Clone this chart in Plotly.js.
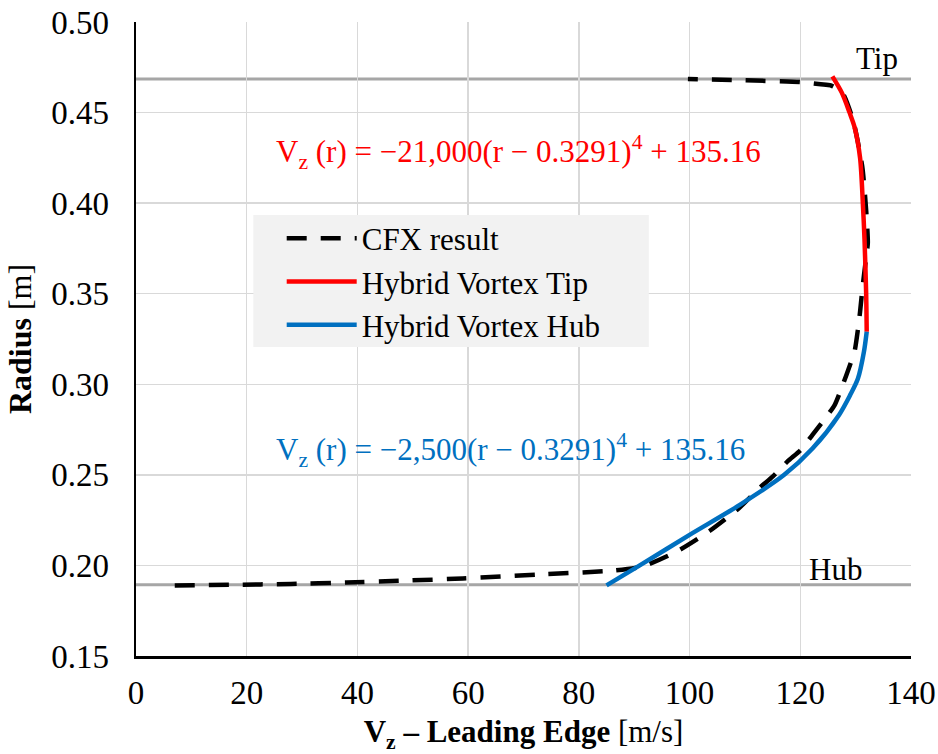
<!DOCTYPE html>
<html>
<head>
<meta charset="utf-8">
<script src="https://cdn.plot.ly/plotly-3.0.1.min.js"></script>
<style>html,body{margin:0;padding:0;background:#fff;}#chart{width:938px;height:754px;}</style>
</head>
<body>
<div id="chart"></div>
<script>
// CFX result (dashed black)
const cfxVz = [7.0, 17.0, 28.0, 38.0, 48.5, 59.0, 72.8, 86.5, 91.5, 97.7, 103.6, 109.0, 112.6, 115.0, 117.7, 120.1, 122.2, 124.3, 126.2, 127.6, 128.9, 129.8, 130.4, 130.8, 131.3, 131.9, 132.2, 131.9, 131.2, 129.6, 127.6, 125.5, 123.7, 120.0, 110.0, 99.7];
const cfxR  = [0.1889, 0.1893, 0.1898, 0.1906, 0.1916, 0.1928, 0.1950, 0.1972, 0.1994, 0.2077, 0.2190, 0.2318, 0.2427, 0.2490, 0.2574, 0.2638, 0.2721, 0.2804, 0.2885, 0.2991, 0.3100, 0.3180, 0.3300, 0.3400, 0.3550, 0.3700, 0.3780, 0.3960, 0.4200, 0.4450, 0.4610, 0.4650, 0.4656, 0.4668, 0.4678, 0.4685];
// Hybrid Vortex Tip (red)
const tipVz = [132.0, 131.9, 131.6, 131.3, 130.8, 129.8, 128.9, 127.5, 125.8];
const tipR  = [0.329, 0.350, 0.380, 0.400, 0.425, 0.442, 0.450, 0.461, 0.470];
// Hybrid Vortex Hub (blue)
const hubVz = [85.0, 91.0, 100.0, 109.0, 117.1, 122.2, 127.0, 129.0, 130.4, 131.5, 132.0];
const hubR  = [0.189, 0.200, 0.2169, 0.2333, 0.250, 0.2645, 0.2831, 0.2940, 0.3030, 0.318, 0.329];
// reference radii
const tipRadius = 0.4685;
const hubRadius = 0.1893;
const xTicks = [0, 20, 40, 60, 80, 100, 120, 140];
const yTicks = [0.15, 0.20, 0.25, 0.30, 0.35, 0.40, 0.45, 0.50];

const FONT = '"Liberation Serif", "Times New Roman", Times, serif';
const TXT = 31;
const TICK = 33;

const traces = [
  {x: cfxVz, y: cfxR, mode: 'lines', name: 'CFX result',
   line: {color: '#000000', width: 4.5, dash: '20px,14px', shape: 'spline', smoothing: 0.6}},
  {x: tipVz, y: tipR, mode: 'lines', name: 'Hybrid Vortex Tip',
   line: {color: '#ff0000', width: 4.5, shape: 'spline', smoothing: 0.8}},
  {x: hubVz, y: hubR, mode: 'lines', name: 'Hybrid Vortex Hub',
   line: {color: '#0070c0', width: 4.5, shape: 'spline', smoothing: 0.8}}
];

const layout = {
  width: 938, height: 754,
  margin: {l: 135.5, r: 26.5, t: 22, b: 98},
  paper_bgcolor: '#ffffff', plot_bgcolor: '#ffffff',
  font: {family: FONT, size: TXT, color: '#000'},
  showlegend: true,
  legend: {
    x: 0.188, y: 0.701, xanchor: 'left', yanchor: 'top',
    bgcolor: 'rgba(0,0,0,0)', borderwidth: 0,
    font: {family: FONT, size: TXT, color: '#000'},
    itemwidth: 70, tracegroupgap: 0
  },
  xaxis: {
    range: [0, 140], tickvals: xTicks, ticktext: xTicks.map(String),
    showgrid: true, gridcolor: '#d9d9d9', gridwidth: 1.5,
    showline: true, linecolor: '#000', linewidth: 2.5,
    zeroline: false, ticks: '', ticklabelstandoff: 6,
    tickfont: {family: FONT, size: TICK, color: '#000'},
    title: {text: '<b>V<sub>z</sub> – Leading Edge</b> [m/s]', font: {family: FONT, size: TXT, color: '#000'}, standoff: 14}
  },
  yaxis: {
    range: [0.15, 0.50], tickvals: yTicks, ticktext: yTicks.map(v => v.toFixed(2)),
    showgrid: true, gridcolor: '#d9d9d9', gridwidth: 1.5,
    showline: true, linecolor: '#000', linewidth: 2.5,
    zeroline: false, ticks: '', ticklabelstandoff: 18,
    tickfont: {family: FONT, size: TICK, color: '#000'},
    title: {text: '<b>Radius</b> [m]', font: {family: FONT, size: 32, color: '#000'}, standoff: 10}
  },
  shapes: [
    {type: 'line', xref: 'paper', x0: 0, x1: 1, yref: 'y', y0: tipRadius, y1: tipRadius,
     line: {color: '#a6a6a6', width: 3}, layer: 'below'},
    {type: 'line', xref: 'paper', x0: 0, x1: 1, yref: 'y', y0: hubRadius, y1: hubRadius,
     line: {color: '#a6a6a6', width: 3}, layer: 'below'},
    {type: 'rect', xref: 'paper', yref: 'paper', x0: 0.1514, x1: 0.6617, y0: 0.4874, y1: 0.6956,
     fillcolor: '#f2f2f2', line: {width: 0}, layer: 'above'}
  ],
  annotations: [
    {x: 133.9, y: 0.4801, xref: 'x', yref: 'y', text: 'Tip', showarrow: false,
     font: {family: FONT, size: TXT, color: '#000'}},
    {x: 126.3, y: 0.1976, xref: 'x', yref: 'y', text: 'Hub', showarrow: false,
     font: {family: FONT, size: TXT, color: '#000'}},
    {x: 25.0, y: 0.4283, xref: 'x', yref: 'y', xanchor: 'left', showarrow: false,
     text: 'V<sub>z</sub> (r) = −21,000(r − 0.3291)<sup>4</sup> + 135.16',
     font: {family: FONT, size: TXT, color: '#ff0000'}},
    {x: 25.0, y: 0.2638, xref: 'x', yref: 'y', xanchor: 'left', showarrow: false,
     text: 'V<sub>z</sub> (r) = −2,500(r − 0.3291)<sup>4</sup> + 135.16',
     font: {family: FONT, size: TXT, color: '#0070c0'}}
  ]
};

Plotly.newPlot('chart', traces, layout, {staticPlot: true, displayModeBar: false});
</script>
</body>
</html>
